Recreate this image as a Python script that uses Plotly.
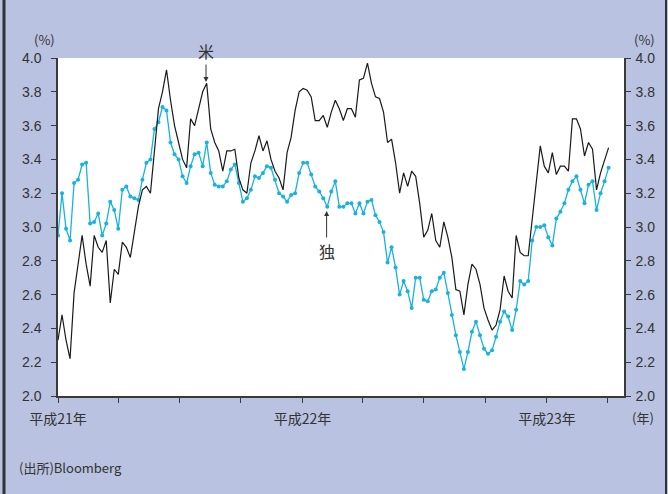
import pandas as pd
import plotly.graph_objects as go

# sampling every 6 days starting 2009-01-01
start_date = "2009-01-01"
step_days = 6

us_yield = [
    2.33, 2.48, 2.33, 2.22, 2.61, 2.78, 2.95, 2.78, 2.65, 2.95,
    2.88, 2.85, 2.92, 2.55, 2.75, 2.72, 2.91, 2.88, 2.82, 2.97,
    3.12, 3.22, 3.24, 3.20, 3.46, 3.70, 3.80, 3.93, 3.75, 3.60,
    3.50, 3.40, 3.35, 3.64, 3.60, 3.70, 3.80, 3.85, 3.58, 3.50,
    3.45, 3.33, 3.45, 3.45, 3.46, 3.29, 3.22, 3.20, 3.38, 3.45,
    3.54, 3.45, 3.51, 3.40, 3.33, 3.29, 3.22, 3.44, 3.53, 3.69,
    3.80, 3.82, 3.81, 3.77, 3.63, 3.63, 3.66, 3.59, 3.68, 3.75,
    3.70, 3.63, 3.70, 3.70, 3.65, 3.87, 3.88, 3.97, 3.85, 3.77,
    3.76, 3.68, 3.50, 3.52, 3.38, 3.20, 3.32, 3.24, 3.33, 3.30,
    3.14, 2.94, 2.98, 3.08, 2.92, 2.88, 3.03, 2.94, 2.82, 2.63,
    2.62, 2.48, 2.66, 2.78, 2.75, 2.66, 2.52, 2.45, 2.39, 2.42,
    2.51, 2.71, 2.62, 2.58, 2.95, 2.85, 2.83, 2.83, 3.05, 3.30,
    3.48, 3.36, 3.32, 3.44, 3.31, 3.36, 3.36, 3.33, 3.64, 3.64,
    3.58, 3.42, 3.50, 3.46, 3.22, 3.32, 3.40, 3.47,
]

de_yield = [
    2.95, 3.20, 2.99, 2.92, 3.26, 3.28, 3.37, 3.38, 3.02, 3.03,
    3.08, 2.95, 3.02, 3.15, 3.10, 2.99, 3.22, 3.24, 3.18, 3.17,
    3.16, 3.28, 3.38, 3.40, 3.58, 3.62, 3.71, 3.69, 3.50, 3.43,
    3.40, 3.30, 3.26, 3.36, 3.43, 3.44, 3.36, 3.50, 3.32, 3.25,
    3.24, 3.24, 3.27, 3.34, 3.37, 3.26, 3.15, 3.17, 3.22, 3.30,
    3.29, 3.32, 3.36, 3.35, 3.28, 3.20, 3.18, 3.15, 3.19, 3.20,
    3.32, 3.38, 3.38, 3.31, 3.24, 3.21, 3.17, 3.12, 3.21, 3.27,
    3.12, 3.12, 3.14, 3.14, 3.08, 3.14, 3.08, 3.15, 3.16, 3.07,
    3.03, 2.97, 2.79, 2.88, 2.76, 2.60, 2.68, 2.62, 2.52, 2.70,
    2.70, 2.57, 2.56, 2.62, 2.63, 2.70, 2.73, 2.61, 2.48, 2.36,
    2.26, 2.16, 2.26, 2.38, 2.44, 2.36, 2.28, 2.25, 2.27, 2.35,
    2.44, 2.50, 2.47, 2.39, 2.51, 2.68, 2.66, 2.68, 2.92, 3.00,
    3.00, 3.01, 2.94, 2.89, 3.05, 3.09, 3.14, 3.22, 3.27, 3.30,
    3.22, 3.14, 3.25, 3.27, 3.10, 3.20, 3.27, 3.35,
]

tick_dates = ["2009-01-01", "2009-04-01", "2009-07-01", "2009-10-01",
              "2010-01-01", "2010-04-01", "2010-07-01", "2010-10-01",
              "2011-01-01", "2011-04-01"]
tick_labels = ["平成21年", "", "", "", "平成22年", "", "", "", "平成23年", ""]

dates = pd.date_range(start_date, periods=len(us_yield), freq=f"{step_days}D")

BG = "#B9C2E1"
AX = "#3a3a3a"
NUM_FONT = dict(family="Liberation Sans Narrow, Liberation Sans, Arial", size=14, color="#333333")
JP_FONT = dict(family="Noto Sans CJK JP", size=13, color="#333333")

fig = go.Figure()
fig.add_trace(go.Scatter(
    x=dates, y=de_yield, mode="lines+markers", name="独",
    line=dict(color="#17B3DE", width=1.3),
    marker=dict(color="#17B3DE", size=4),
    hoverinfo="skip",
))
fig.add_trace(go.Scatter(
    x=dates, y=us_yield, mode="lines", name="米",
    line=dict(color="#1a1a1a", width=1.2),
    hoverinfo="skip",
))
# dummy trace to activate right axis
fig.add_trace(go.Scatter(x=[dates[0]], y=[None], yaxis="y2", showlegend=False, hoverinfo="skip"))

yax_common = dict(
    range=[2, 4], tick0=2, dtick=0.2, tickformat=".1f",
    showgrid=False, zeroline=False, showline=True,
    linecolor=AX, linewidth=1.5, ticks="outside", ticklen=5,
    tickcolor=AX, tickwidth=1, tickfont=NUM_FONT,
)

fig.update_layout(
    width=668, height=494,
    margin=dict(l=58, r=44, t=58, b=98),
    paper_bgcolor=BG, plot_bgcolor="white",
    showlegend=False,
    xaxis=dict(
        type="date", range=["2009-01-01", "2011-04-26"],
        tickvals=tick_dates, ticktext=tick_labels,
        showgrid=False, zeroline=False, showline=True,
        linecolor=AX, linewidth=1.5, ticks="outside", ticklen=5,
        tickcolor=AX, tickfont=dict(family="Noto Sans CJK JP", size=14, color="#333333"),
        ticklabelstandoff=4,
    ),
    yaxis=dict(**yax_common, side="left", ticklabelstandoff=7),
    yaxis2=dict(**yax_common, side="right", overlaying="y", ticklabelstandoff=2),
)

annos = [
    dict(text="(%)", x=-0.023, y=1.056, xref="paper", yref="paper",
         showarrow=False, font=JP_FONT, xanchor="center", yanchor="middle"),
    dict(text="(%)", x=1.037, y=1.056, xref="paper", yref="paper",
         showarrow=False, font=JP_FONT, xanchor="center", yanchor="middle"),
    dict(text="(年)", x=1.034, y=-0.065, xref="paper", yref="paper",
         showarrow=False, font=JP_FONT, xanchor="center", yanchor="middle"),
    dict(text="(出所)Bloomberg", x=-0.0724, y=-0.213, xref="paper", yref="paper",
         showarrow=False, font=JP_FONT, xanchor="left", yanchor="middle"),
    dict(text="米", x="2009-08-10", y=3.858, xref="x", yref="y",
         showarrow=True, ax=0, ay=-31, arrowhead=2, arrowsize=1, arrowwidth=1,
         arrowcolor="#333333", font=dict(family="Noto Sans CJK JP", size=16, color="#333333")),
    dict(text="独", x="2010-02-06", y=3.095, xref="x", yref="y",
         showarrow=True, ax=0, ay=40, arrowhead=2, arrowsize=1, arrowwidth=1,
         arrowcolor="#333333", font=dict(family="Noto Sans CJK JP", size=16, color="#333333")),
]
fig.update_layout(annotations=annos)

fig.update_layout(shapes=[
    dict(type="line", xref="paper", yref="paper", x0=-0.0954, x1=-0.0954, y0=-0.3, y1=1.2,
         line=dict(color="#333333", width=3)),
    dict(type="line", xref="paper", yref="paper", x0=1.0742, x1=1.0742, y0=-0.3, y1=1.2,
         line=dict(color="#333333", width=2)),
])

fig.write_html("out.html")
